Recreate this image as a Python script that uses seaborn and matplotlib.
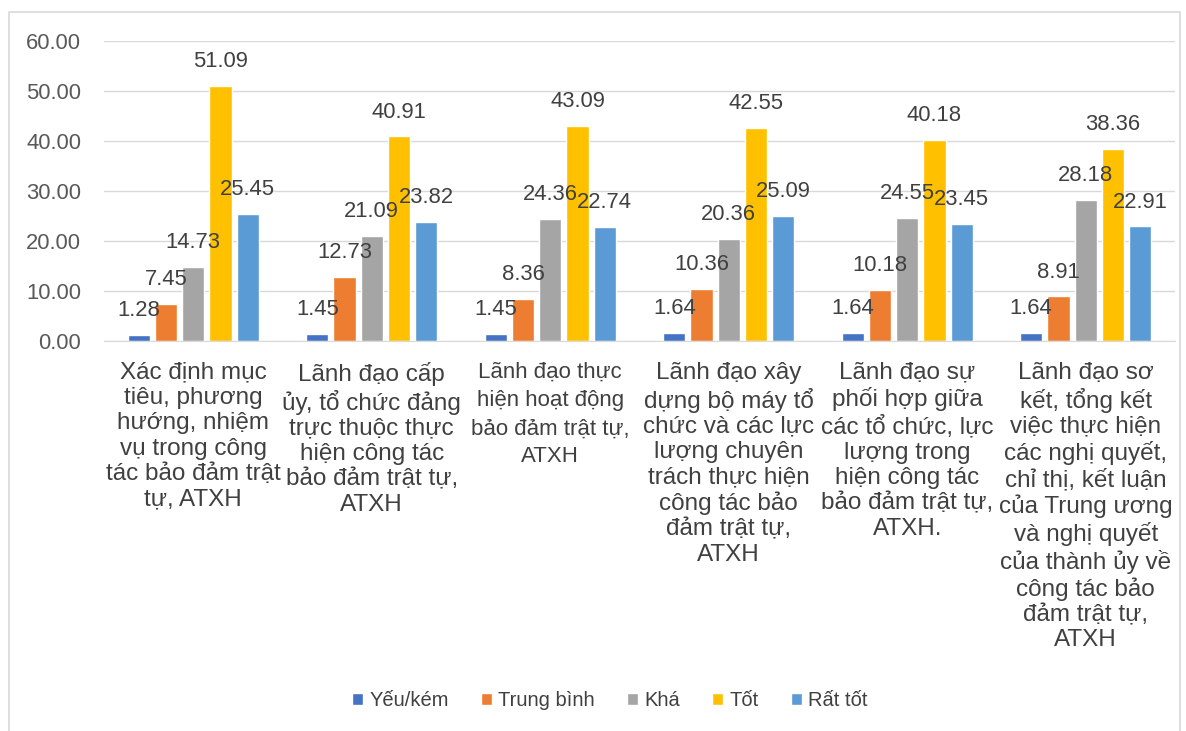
import pandas as pd
import matplotlib.pyplot as plt
import seaborn as sns
from matplotlib.patches import Rectangle

sns.set_style("white")
plt.rcParams["font.family"] = ["Liberation Sans", "DejaVu Sans"]

categories = [
    "Xác định mục\ntiêu, phương\nhướng, nhiệm\nvụ trong công\ntác bảo đảm trật\ntự, ATXH",
    "Lãnh đạo cấp\nủy, tổ chức đảng\ntrực thuộc thực\nhiện công tác\nbảo đảm trật tự,\nATXH",
    "Lãnh đạo thực\nhiện hoạt động\nbảo đảm trật tự,\nATXH",
    "Lãnh đạo xây\ndựng bộ máy tổ\nchức và các lực\nlượng chuyên\ntrách thực hiện\ncông tác bảo\nđảm trật tự,\nATXH",
    "Lãnh đạo sự\nphối hợp giữa\ncác tổ chức, lực\nlượng trong\nhiện công tác\nbảo đảm trật tự,\nATXH.",
    "Lãnh đạo sơ\nkết, tổng kết\nviệc thực hiện\ncác nghị quyết,\nchỉ thị, kết luận\ncủa Trung ương\nvà nghị quyết\ncủa thành ủy về\ncông tác bảo\nđảm trật tự,\nATXH",
]
series = ["Yếu/kém", "Trung bình", "Khá", "Tốt", "Rất tốt"]
yeu_kem = [1.28, 1.45, 1.45, 1.64, 1.64, 1.64]
trung_binh = [7.45, 12.73, 8.36, 10.36, 10.18, 8.91]
kha = [14.73, 21.09, 24.36, 20.36, 24.55, 28.18]
tot = [51.09, 40.91, 43.09, 42.55, 40.18, 38.36]
rat_tot = [25.45, 23.82, 22.74, 25.09, 23.45, 22.91]
colors = ["#4472C4", "#ED7D31", "#A5A5A5", "#FFC000", "#5B9BD5"]

rows = []
for name, vals in zip(series, [yeu_kem, trung_binh, kha, tot, rat_tot]):
    for cat, v in zip(categories, vals):
        rows.append({"cat": cat, "series": name, "value": v})
df = pd.DataFrame(rows)

fig = plt.figure(figsize=(11.86, 7.31), dpi=100)
ax = fig.add_axes([0.0877, 0.5335, 0.9030, 0.4104])

sns.barplot(data=df, x="cat", y="value", hue="series", hue_order=series,
            order=categories, palette=colors, width=0.763, gap=0.19,
            saturation=1, ax=ax)

for cont in ax.containers:
    ax.bar_label(cont, fmt="%.2f", padding=10, fontsize=15.8, color="#404040")

ax.set_ylim(0, 60)
ax.set_yticks(range(0, 61, 10))
ax.set_yticklabels([f"{v:.2f}" for v in range(0, 61, 10)])
ax.yaxis.grid(True, color="#D9D9D9", linewidth=1)
ax.set_axisbelow(True)
for s in ["left", "right", "top"]:
    ax.spines[s].set_visible(False)
ax.spines["bottom"].set_color("#D9D9D9")
ax.tick_params(axis="y", length=0, labelsize=15.8, colors="#595959", pad=16.5)
ax.tick_params(axis="x", length=0, labelsize=17.5, colors="#404040", pad=15)
ax.set_xlabel("")
ax.set_ylabel("")
for lbl in ax.get_xticklabels():
    lbl.set_multialignment("center")
    lbl.set_linespacing(1.19)
ax.get_xticklabels()[2].set_fontsize(16)
ax.get_xticklabels()[2].set_linespacing(1.45)

handles, labels = ax.get_legend_handles_labels()
ax.legend(handles, labels, loc="center", bbox_to_anchor=(0.514, 0.042),
          bbox_transform=fig.transFigure, ncol=5, frameon=False,
          fontsize=14.5, handlelength=0.55, handleheight=0.55,
          columnspacing=1.6, handletextpad=0.3, labelcolor="#404040")

fig.patches.append(Rectangle((9 / 1186, -0.01), 1171 / 1186, 1 - 12 / 731 + 0.01,
                             transform=fig.transFigure, fill=False,
                             edgecolor="#D9D9D9", linewidth=1.2))

fig.savefig("out.png", dpi=100)
